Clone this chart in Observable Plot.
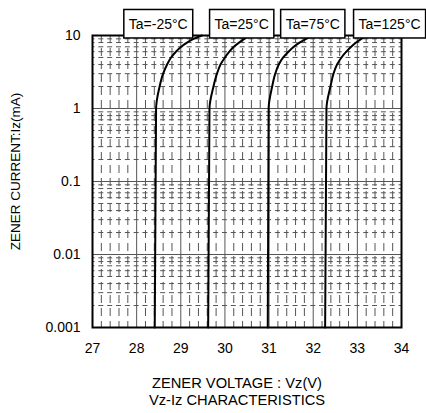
<!DOCTYPE html>
<html><head><meta charset="utf-8">
<script src="https://cdn.jsdelivr.net/npm/d3@7"></script>
<script src="https://cdn.jsdelivr.net/npm/@observablehq/plot@0.6"></script>
<style>
html,body{margin:0;padding:0;background:#fff;}
</style>
</head><body><div id="chart"></div>
<script>
// Zener current (mA) at which voltages were read
const currents = [0.001, 1, 2, 3, 4, 5, 6, 7, 8, 9, 10];
// Zener voltage (V) for each ambient temperature
const vM25 = [28.41, 28.44, 28.52, 28.60, 28.69, 28.78, 28.89, 29.01, 29.14, 29.29, 29.48];
const v25  = [29.62, 29.65, 29.74, 29.82, 29.90, 30.00, 30.10, 30.20, 30.32, 30.44, 30.57];
const v75  = [30.97, 30.99, 31.07, 31.14, 31.22, 31.32, 31.44, 31.56, 31.69, 31.84, 32.00];
const v125 = [32.27, 32.30, 32.39, 32.46, 32.54, 32.64, 32.75, 32.86, 32.97, 33.09, 33.21];
const seriesNames = ["Ta=-25°C", "Ta=25°C", "Ta=75°C", "Ta=125°C"];
const labelVoltages = [28.49, 30.38, 31.99, 33.73];
const labelCurrent = 10;
const xTicks = [27, 28, 29, 30, 31, 32, 33, 34];
const yTicks = [0.001, 0.01, 0.1, 1, 10];
const yTickLabels = ["0.001", "0.01", "0.1", "1", "10"];
const xTitle = "ZENER VOLTAGE : Vz(V)";
const yTitle = "ZENER CURRENT:Iz(mA)";
const caption = "Vz-Iz CHARACTERISTICS";

const seriesValues = [vM25, v25, v75, v125];
const rows = [];
seriesValues.forEach((vs, s) => vs.forEach((v, k) => rows.push({series: seriesNames[s], v, i: currents[k]})));
const labels = seriesNames.map((name, s) => ({name, v: labelVoltages[s], i: labelCurrent}));

// minor grid positions
const xMinor = [];
for (let a = 27; a < 34; a++) for (let b = 1; b <= 4; b++) xMinor.push(+(a + b * 0.2).toFixed(1));
const yMinor = [];
for (let e = -3; e <= 0; e++) for (let m = 2; m <= 9; m++) yMinor.push(+(m * Math.pow(10, e)).toPrecision(2));

const W = 426, H = 413, ML = 92, MR = 25, MT = 35, MB = 86;
const period = (W - ML - MR) / 35;
const font = "'Liberation Sans', Arial, sans-serif";

const chart = Plot.plot({
  width: W, height: H,
  marginLeft: ML, marginRight: MR, marginTop: MT, marginBottom: MB,
  style: {fontFamily: font, fontSize: "14px", background: "#fff", color: "#000", overflow: "visible"},
  x: {domain: [27, 34]},
  y: {type: "log", domain: [0.001, 10]},
  marks: [
    Plot.ruleX(xMinor, {stroke: "#555", strokeWidth: 1, strokeDasharray: "8,5"}),
    Plot.ruleY(yMinor, {stroke: "#555", strokeWidth: 1, strokeDasharray: `5,${(period - 5).toFixed(2)}`, strokeDashoffset: 2.5}),
    Plot.ruleX(xTicks, {stroke: "#555", strokeWidth: 1}),
    Plot.ruleY(yTicks, {stroke: "#555", strokeWidth: 1}),
    Plot.line(rows, {x: "v", y: "i", z: "series", curve: "monotone-y", stroke: "#000", strokeWidth: 2}),
    Plot.frame({stroke: "#000", strokeWidth: 2}),
    Plot.axisX(xTicks, {tickSize: 0, tickPadding: 16, tickFormat: d => String(d), label: null, fontSize: 14}),
    Plot.axisY(yTicks, {tickSize: 0, tickPadding: 12, tickFormat: d => yTickLabels[yTicks.indexOf(d)], label: null, fontSize: 14}),
    Plot.text([xTitle], {frameAnchor: "bottom", textAnchor: "middle", dx: -10, dy: 56, lineAnchor: "middle", fontSize: 14.7}),
    Plot.text([caption], {frameAnchor: "bottom", textAnchor: "middle", dx: -10, dy: 73, lineAnchor: "middle", fontSize: 14.7}),
    Plot.text([yTitle], {frameAnchor: "left", textAnchor: "middle", dx: -77, dy: -10, rotate: -90, lineAnchor: "middle", fontSize: 13.5}),
    Plot.text(labels, {x: "v", y: "i", text: "name", dy: -11, lineAnchor: "middle", fontSize: 14, className: "tlabel"})
  ]
});
document.getElementById("chart").appendChild(chart);

// draw boxes around temperature labels, resting on the top of the frame
d3.select(chart).selectAll("g.tlabel text").each(function () {
  const bb = this.getBBox();
  const tr = this.getAttribute("transform");
  const r = document.createElementNS("http://www.w3.org/2000/svg", "rect");
  r.setAttribute("x", bb.x - 5);
  r.setAttribute("y", bb.y - 6.5);
  r.setAttribute("width", bb.width + 10);
  r.setAttribute("height", bb.height + 12.5);
  r.setAttribute("fill", "#fff");
  r.setAttribute("stroke", "#000");
  r.setAttribute("stroke-width", 1.5);
  if (tr) r.setAttribute("transform", tr);
  this.parentNode.insertBefore(r, this);
});
</script>
</body></html>
